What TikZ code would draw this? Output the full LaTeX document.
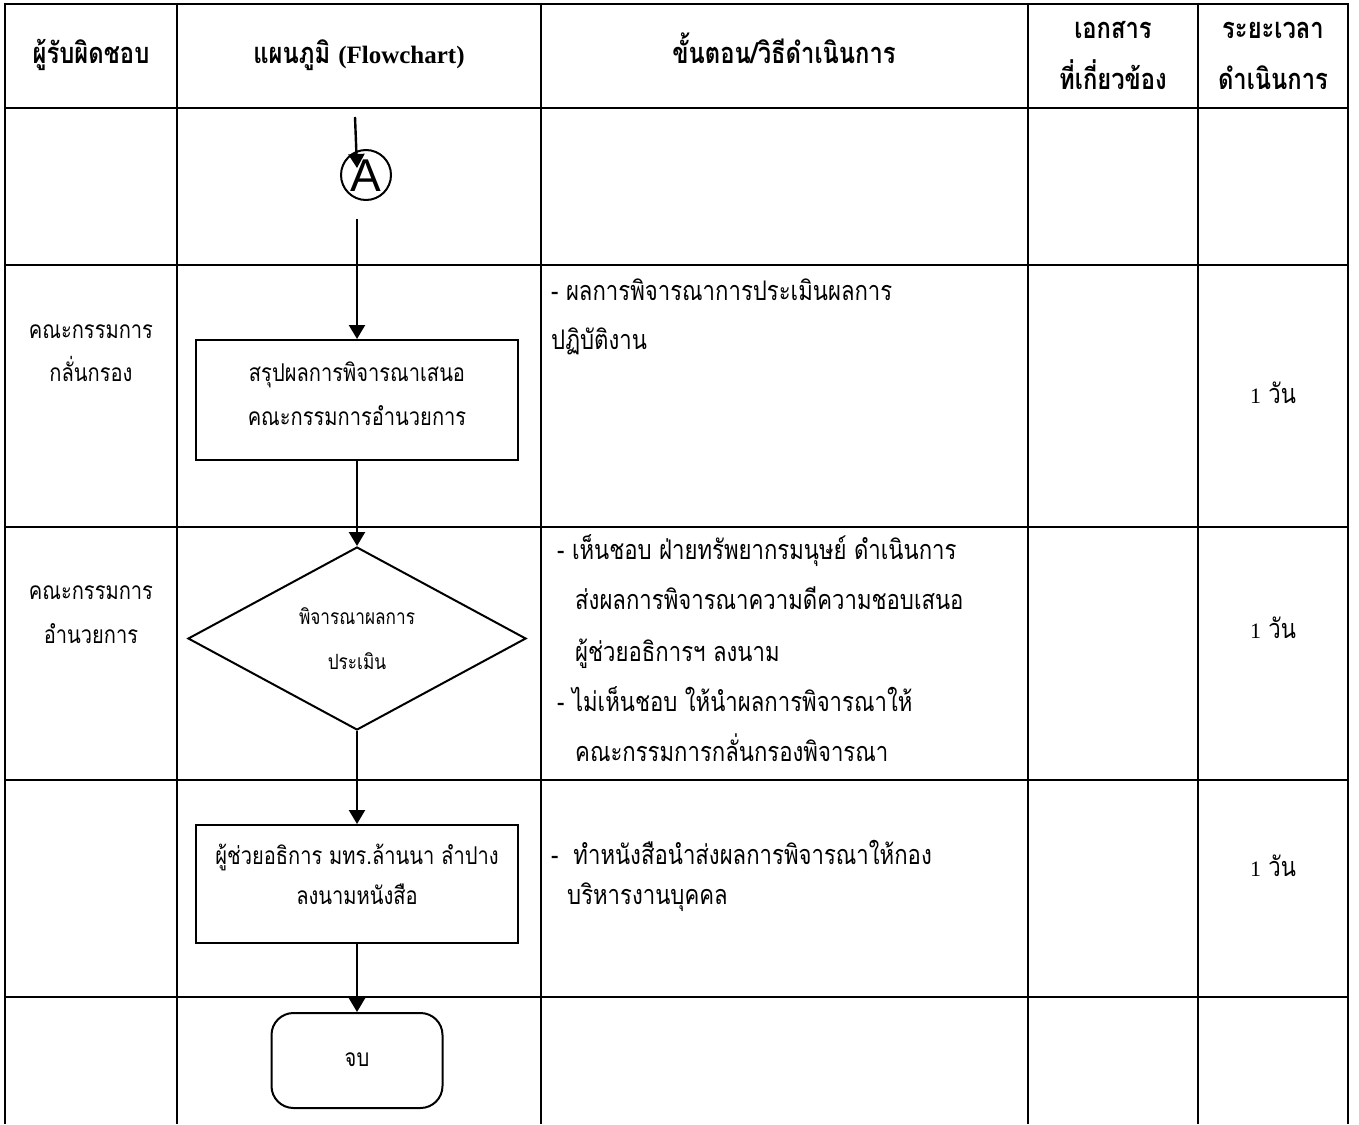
\documentclass[tikz,border=0pt]{standalone}
\usepackage{fontspec}
\setmainfont{Liberation Serif}
\newfontfamily\thfont[Script=Thai,FakeStretch=0.82]{Loma}
\newfontfamily\asans{Liberation Sans}
\usetikzlibrary{arrows.meta,shapes.geometric,calc}
\tikzset{
  tbl/.style={line width=2.6pt},
  txt/.style={inner sep=0pt,font=\thfont\fontsize{27}{32}\selectfont,text height=18pt,text depth=6pt},
  boxtxt/.style={inner sep=0pt,font=\thfont\fontsize{24.5}{30}\selectfont,text height=17pt,text depth=5pt},
  smalltxt/.style={inner sep=0pt,font=\thfont\fontsize{21}{26}\selectfont,text height=14pt,text depth=5pt},
  hdr/.style={inner sep=0pt,font=\thfont\bfseries\fontsize{29}{34}\selectfont,text height=19pt,text depth=6pt},
  lt/.style={txt,anchor=west},
  procbox/.style={draw,line width=2pt,minimum width=322pt,inner sep=0pt},
  flow/.style={line width=2.4pt,-{Triangle[width=16pt,length=14pt]}}
}
\begin{document}
\begin{tikzpicture}[x=1pt,y=-1pt]
\useasboundingbox (0,0) rectangle (1359,1124);
% table grid
\foreach \yy in {4,108,265,527,780,997}{\draw[tbl] (5,\yy) -- (1348,\yy);}
\foreach \xx in {5,177,541,1028,1198,1348}{\draw[tbl] (\xx,2.7) -- (\xx,1124);}
% headers
\node[hdr] (h1) at (91,57) {ผู้รับผิดชอบ};
\node[hdr] (h2) at (359,57) {แผนภูมิ {\rmfamily\bfseries\fontsize{25}{30}\selectfont (Flowchart)}};
\node[hdr] (h3) at (784,57) {ขั้นตอน/วิธีดำเนินการ};
\node[hdr] (h4a) at (1113,32) {เอกสาร};
\node[hdr] (h4b) at (1113,83) {ที่เกี่ยวข้อง};
\node[hdr] (h5a) at (1273,32) {ระยะเวลา};
\node[hdr] (h5b) at (1273,83) {ดำเนินการ};
% responsible
\node[boxtxt] (r2a) at (91,332) {คณะกรรมการ};
\node[boxtxt] (r2b) at (91,375) {กลั่นกรอง};
\node[boxtxt] (r3a) at (91,593) {คณะกรรมการ};
\node[boxtxt] (r3b) at (91,637) {อำนวยการ};
% flowchart
\node[circle,draw,line width=2pt,minimum size=50pt,inner sep=0pt] (A) at (366,175) {};
\node[inner sep=0pt,font=\asans\fontsize{46}{46}\selectfont] (Aletter) at (366,176) {A};
\coordinate (inA) at (355,117);
\coordinate (Atip) at (357,168);
\coordinate (Aout) at (357,219);
\node[procbox,minimum height=120pt] (b1) at (357,400) {};
\node[boxtxt] (b1a) at (357,375) {สรุปผลการพิจารณาเสนอ};
\node[boxtxt] (b1b) at (357,419) {คณะกรรมการอำนวยการ};
\node[diamond,draw,line width=2pt,minimum width=338pt,minimum height=183pt,inner sep=0pt,aspect=1.85] (dia) at (357,638.5) {};
\node[smalltxt] (d1) at (357,620) {พิจารณาผลการ};
\node[smalltxt] (d2) at (357,665) {ประเมิน};
\node[procbox,minimum height=118pt] (b2) at (357,884) {};
\node[boxtxt] (b2a) at (357,858) {ผู้ช่วยอธิการ มทร.ล้านนา ลำปาง};
\node[boxtxt] (b2b) at (357,898) {ลงนามหนังสือ};
\node[draw,line width=2pt,rounded corners=22pt,minimum width=171pt,minimum height=95pt,inner sep=0pt] (endn) at (357,1060.5) {};
\node[boxtxt] (endt) at (357,1060) {จบ};
\draw[flow] (inA) -- (Atip);
\draw[flow] (Aout) -- (b1.north);
\draw[flow] (b1.south) -- (dia.north);
\draw[flow] (dia.south) -- (b2.north);
\draw[flow] (b2.south) -- (endn.north);
% steps
\node[lt] (s1) at (551,294) {- ผลการพิจารณาการประเมินผลการ};
\node[lt] (s2) at (551,343) {ปฏิบัติงาน};
\node[lt] (s3) at (557,553) {- เห็นชอบ ฝ่ายทรัพยากรมนุษย์ ดำเนินการ};
\node[lt] (s4) at (575,603) {ส่งผลการพิจารณาความดีความชอบเสนอ};
\node[lt] (s5) at (575,655) {ผู้ช่วยอธิการฯ ลงนาม};
\node[lt] (s6) at (557,705) {- ไม่เห็นชอบ ให้นำผลการพิจารณาให้};
\node[lt] (s7) at (575,755) {คณะกรรมการกลั่นกรองพิจารณา};
\node[lt] (s8) at (551,858) {-\ \ ทำหนังสือนำส่งผลการพิจารณาให้กอง};
\node[lt] (s9) at (567,898) {บริหารงานบุคคล};
% durations
\node[txt] (t1) at (1273,397) {{\rmfamily\fontsize{22}{26}\selectfont 1} วัน};
\node[txt] (t2) at (1273,632) {{\rmfamily\fontsize{22}{26}\selectfont 1} วัน};
\node[txt] (t3) at (1273,870) {{\rmfamily\fontsize{22}{26}\selectfont 1} วัน};
\end{tikzpicture}
\end{document}
